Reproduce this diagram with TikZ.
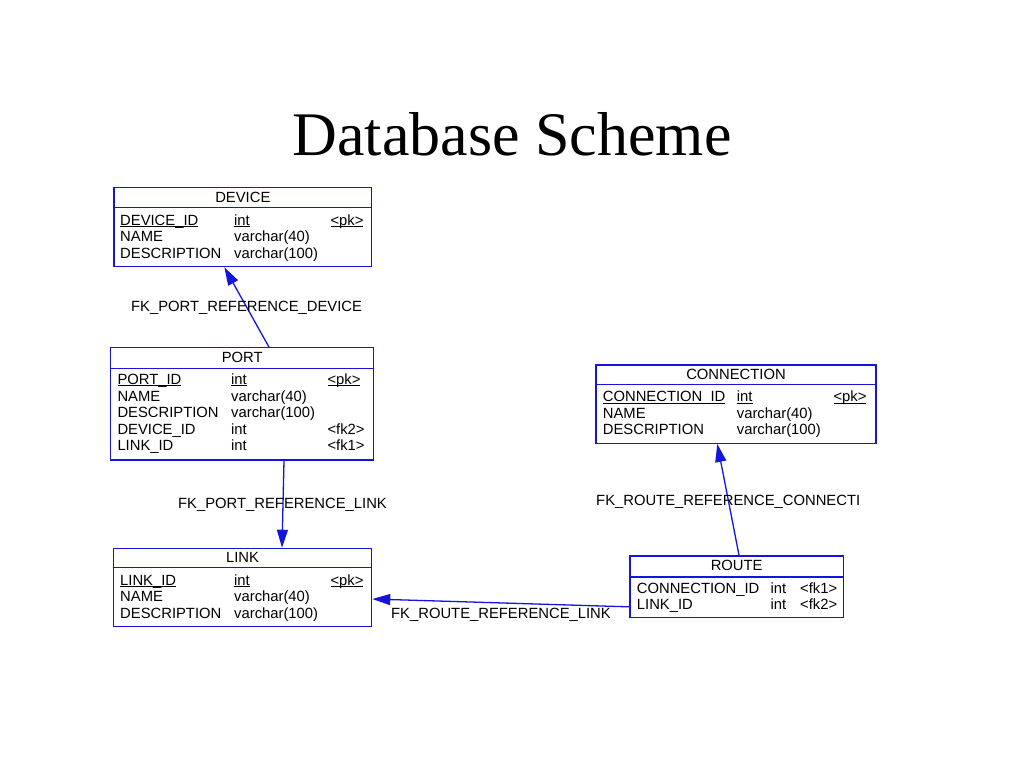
\documentclass[tikz,border=0pt]{standalone}
\usepackage{fontspec}
\usepackage{xcolor}
\setmainfont{Liberation Serif}
\newfontfamily\tabfamily{Liberation Sans}
\usetikzlibrary{shapes,arrows.meta,positioning}
\definecolor{erblue}{RGB}{20,20,220}
\newcommand{\tabfont}{\tabfamily\fontsize{14.8}{16}\selectfont}
\newcommand{\keyline}[1]{\setbox0\hbox{#1}\rlap{\rule[-1.8pt]{\wd0}{0.9pt}}#1}
\tikzset{
  tbl/.style={draw=erblue, line width=1.2pt, inner sep=0pt},
  cell/.style={anchor=base west, inner sep=0pt, font=\tabfont},
  head/.style={anchor=base, inner sep=0pt, font=\tabfont},
  fk/.style={draw=erblue, line width=1.3pt, -{Triangle[length=18pt,width=11pt]}},
  fklabel/.style={anchor=base west, inner sep=0pt, font=\tabfont}
}
\begin{document}
\begin{tikzpicture}[x=1pt,y=-1pt]
\useasboundingbox[fill=white] (0,0) rectangle (1024,768);
\node[anchor=base, inner sep=0pt, font=\fontsize{62}{70}\selectfont] (title) at (512,155) {Database Scheme};
% DEVICE
\node[tbl, minimum width=257.7pt, minimum height=79.4pt] (device) at (242.85,227) {};
\draw[erblue, line width=1.2pt] ([yshift=-21pt]device.north west) -- ([yshift=-21pt]device.north east);
\node[head] (device-h) at (242.85,202.3) {DEVICE};
\node[cell] (device-id) at (120,225) {\keyline{DEVICE\_ID}};
\node[cell] (device-idt) at (234,225) {\keyline{int}};
\node[cell] (device-pk) at (330.3,225) {\keyline{<pk>}};
\node[cell] (device-name) at (120,241.5) {NAME};
\node[cell] (device-namet) at (234,241.5) {varchar(40)};
\node[cell] (device-desc) at (120,258) {DESCRIPTION};
\node[cell] (device-desct) at (234,258) {varchar(100)};
% PORT
\node[tbl, minimum width=263pt, minimum height=112.3pt] (port) at (242.2,403.85) {};
\draw[erblue, line width=1.2pt] ([yshift=-21pt]port.north west) -- ([yshift=-21pt]port.north east);
\node[head] (port-h) at (242.2,362.3) {PORT};
\node[cell] (port-id) at (117.3,384.3) {\keyline{PORT\_ID}};
\node[cell] (port-idt) at (231,384.3) {\keyline{int}};
\node[cell] (port-pk) at (327.3,384.3) {\keyline{<pk>}};
\node[cell] (port-name) at (117.3,401) {NAME};
\node[cell] (port-namet) at (231,401) {varchar(40)};
\node[cell] (port-desc) at (117.3,417.3) {DESCRIPTION};
\node[cell] (port-desct) at (231,417.3) {varchar(100)};
\node[cell] (port-dev) at (117.3,434) {DEVICE\_ID};
\node[cell] (port-devt) at (231,434) {int};
\node[cell] (port-fk2) at (327.3,434) {<fk2>};
\node[cell] (port-link) at (117.3,450.5) {LINK\_ID};
\node[cell] (port-linkt) at (231,450.5) {int};
\node[cell] (port-fk1) at (327.3,450.5) {<fk1>};
% CONNECTION
\node[tbl, minimum width=280pt, minimum height=78.3pt] (connection) at (736,404.15) {};
\draw[erblue, line width=1.2pt] ([yshift=-20pt]connection.north west) -- ([yshift=-20pt]connection.north east);
\node[head] (connection-h) at (736,379) {CONNECTION};
\node[cell] (connection-id) at (602.7,401.7) {\keyline{CONNECTION\_ID}};
\node[cell] (connection-idt) at (736.7,401.7) {\keyline{int}};
\node[cell] (connection-pk) at (833.3,401.7) {\keyline{<pk>}};
\node[cell] (connection-name) at (602.7,418.3) {NAME};
\node[cell] (connection-namet) at (736.7,418.3) {varchar(40)};
\node[cell] (connection-desc) at (602.7,434.5) {DESCRIPTION};
\node[cell] (connection-desct) at (736.7,434.5) {varchar(100)};
% LINK
\node[tbl, minimum width=258.4pt, minimum height=78.4pt] (link) at (242.5,587.5) {};
\draw[erblue, line width=1.2pt] ([yshift=-20pt]link.north west) -- ([yshift=-20pt]link.north east);
\node[head] (link-h) at (242.5,562.7) {LINK};
\node[cell] (link-id) at (120,585) {\keyline{LINK\_ID}};
\node[cell] (link-idt) at (234,585) {\keyline{int}};
\node[cell] (link-pk) at (330.3,585) {\keyline{<pk>}};
\node[cell] (link-name) at (120,601.5) {NAME};
\node[cell] (link-namet) at (234,601.5) {varchar(40)};
\node[cell] (link-desc) at (120,618) {DESCRIPTION};
\node[cell] (link-desct) at (234,618) {varchar(100)};
% ROUTE
\node[tbl, minimum width=213.3pt, minimum height=61.7pt] (route) at (736.65,586.85) {};
\draw[erblue, line width=1.2pt] ([yshift=-21.5pt]route.north west) -- ([yshift=-21.5pt]route.north east);
\node[head] (route-h) at (736.65,570.7) {ROUTE};
\node[cell] (route-conn) at (636.7,593.3) {CONNECTION\_ID};
\node[cell] (route-connt) at (770.3,593.3) {int};
\node[cell] (route-fk1) at (800,593.3) {<fk1>};
\node[cell] (route-link) at (636.7,609.3) {LINK\_ID};
\node[cell] (route-linkt) at (770.3,609.3) {int};
\node[cell] (route-fk2) at (800,609.3) {<fk2>};
% references
\draw[fk] ([xshift=26.8pt]port.north) -- ([xshift=-18.5pt]device.south);
\draw[fk] ([xshift=41.8pt]port.south) -- ([xshift=39.5pt]link.north);
\draw[fk] ([xshift=2.4pt]route.north) -- ([xshift=-18.7pt]connection.south);
\draw[fk] ([yshift=-20pt]route.west) -- ([yshift=-11.5pt]link.east);
\node[fklabel] (fk-port-device) at (131,311.5) {FK\_PORT\_REFERENCE\_DEVICE};
\node[fklabel] (fk-port-link) at (178,508) {FK\_PORT\_REFERENCE\_LINK};
\node[fklabel] (fk-route-conn) at (596,505) {FK\_ROUTE\_REFERENCE\_CONNECTI};
\node[fklabel] (fk-route-link) at (391,618) {FK\_ROUTE\_REFERENCE\_LINK};
\end{tikzpicture}
\end{document}
